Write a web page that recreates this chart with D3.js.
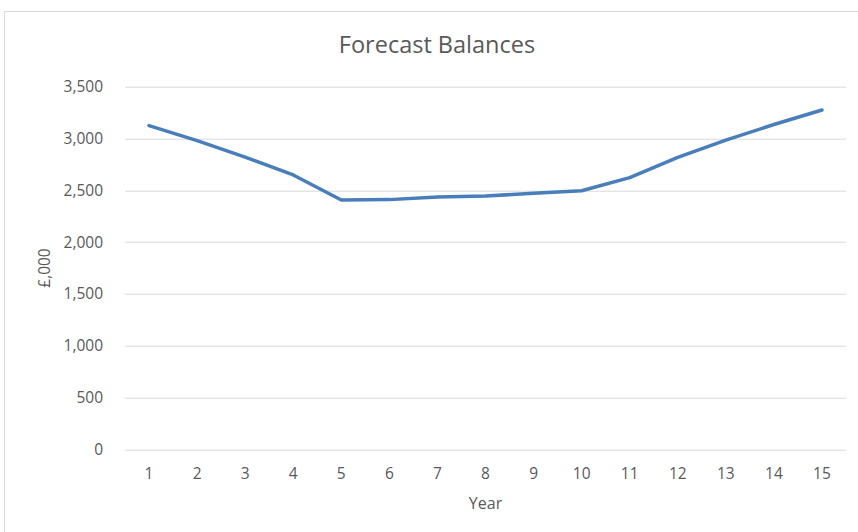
<!DOCTYPE html>
<html>
<head>
<meta charset="utf-8">
<script src="https://cdn.jsdelivr.net/npm/d3@7"></script>
<style>
  body { margin: 0; background: #fff; }
  svg { display: block; font-family: "Open Sans", sans-serif; }
</style>
</head>
<body>
<svg width="858" height="532"></svg>
<script>
// data
var years = [1, 2, 3, 4, 5, 6, 7, 8, 9, 10, 11, 12, 13, 14, 15];
var balances = [3125, 2980, 2820, 2648, 2406, 2410, 2435, 2445, 2471, 2496, 2622, 2818, 2985, 3135, 3275];
var yTicks = [0, 500, 1000, 1500, 2000, 2500, 3000, 3500];

var svg = d3.select("svg");
var marge = { top: 86.7, bottom: 82.7, left: 125, right: 12 };
var w = 858 - marge.left - marge.right;
var h = 532 - marge.top - marge.bottom;

// chart frame
svg.append("rect")
  .attr("x", 4.5).attr("y", 11.5)
  .attr("width", 870).attr("height", 540)
  .attr("fill", "none").attr("stroke", "#d9d9d9");

var g = svg.append("g").attr("transform", "translate(" + marge.left + "," + marge.top + ")");

var x = d3.scaleBand().domain(years).range([0, w]);
var y = d3.scaleLinear().domain([0, 3500]).range([h, 0]);

// gridlines
g.selectAll(".grid")
  .data(yTicks)
  .enter()
  .append("line")
  .attr("x1", 0).attr("x2", w)
  .attr("y1", function(d){ return Math.round(y(d)) + 0.5 })
  .attr("y2", function(d){ return Math.round(y(d)) + 0.5 })
  .attr("stroke", "#d9d9d9").attr("stroke-width", 1);

// y labels
var fmt = d3.format(",");
g.selectAll(".ylab")
  .data(yTicks)
  .enter()
  .append("text")
  .attr("x", -22)
  .attr("y", function(d){ return y(d) })
  .attr("dy", "0.35em")
  .attr("text-anchor", "end")
  .attr("fill", "#595959")
  .style("font-size", "15.5px")
  .text(function(d){ return fmt(d) });

// x labels
g.selectAll(".xlab")
  .data(years)
  .enter()
  .append("text")
  .attr("x", function(d){ return x(d) + x.bandwidth() / 2 })
  .attr("y", h + 24)
  .attr("dy", "0.35em")
  .attr("text-anchor", "middle")
  .attr("fill", "#595959")
  .style("font-size", "15.5px")
  .text(function(d){ return d });

// line
var line = d3.line()
  .x(function(d, i){ return x(years[i]) + x.bandwidth() / 2 })
  .y(function(d){ return y(d) });

g.append("path")
  .datum(balances)
  .attr("d", line)
  .attr("fill", "none")
  .attr("stroke", "#4a7ebb")
  .attr("stroke-width", 3.5)
  .attr("stroke-linejoin", "round")
  .attr("stroke-linecap", "round");

// title
svg.append("text")
  .attr("x", 437).attr("y", 53)
  .attr("text-anchor", "middle")
  .attr("fill", "#595959")
  .style("font-size", "23.5px")
  .text("Forecast Balances");

// axis titles
svg.append("text")
  .attr("x", marge.left + w / 2).attr("y", 503)
  .attr("dy", "0.35em")
  .attr("text-anchor", "middle")
  .attr("fill", "#595959")
  .style("font-size", "16px")
  .text("Year");

svg.append("text")
  .attr("transform", "translate(45," + (marge.top + h / 2) + ") rotate(-90)")
  .attr("dy", "0.35em")
  .attr("text-anchor", "middle")
  .attr("fill", "#595959")
  .style("font-size", "15.5px")
  .text("£,000");
</script>
</body>
</html>
